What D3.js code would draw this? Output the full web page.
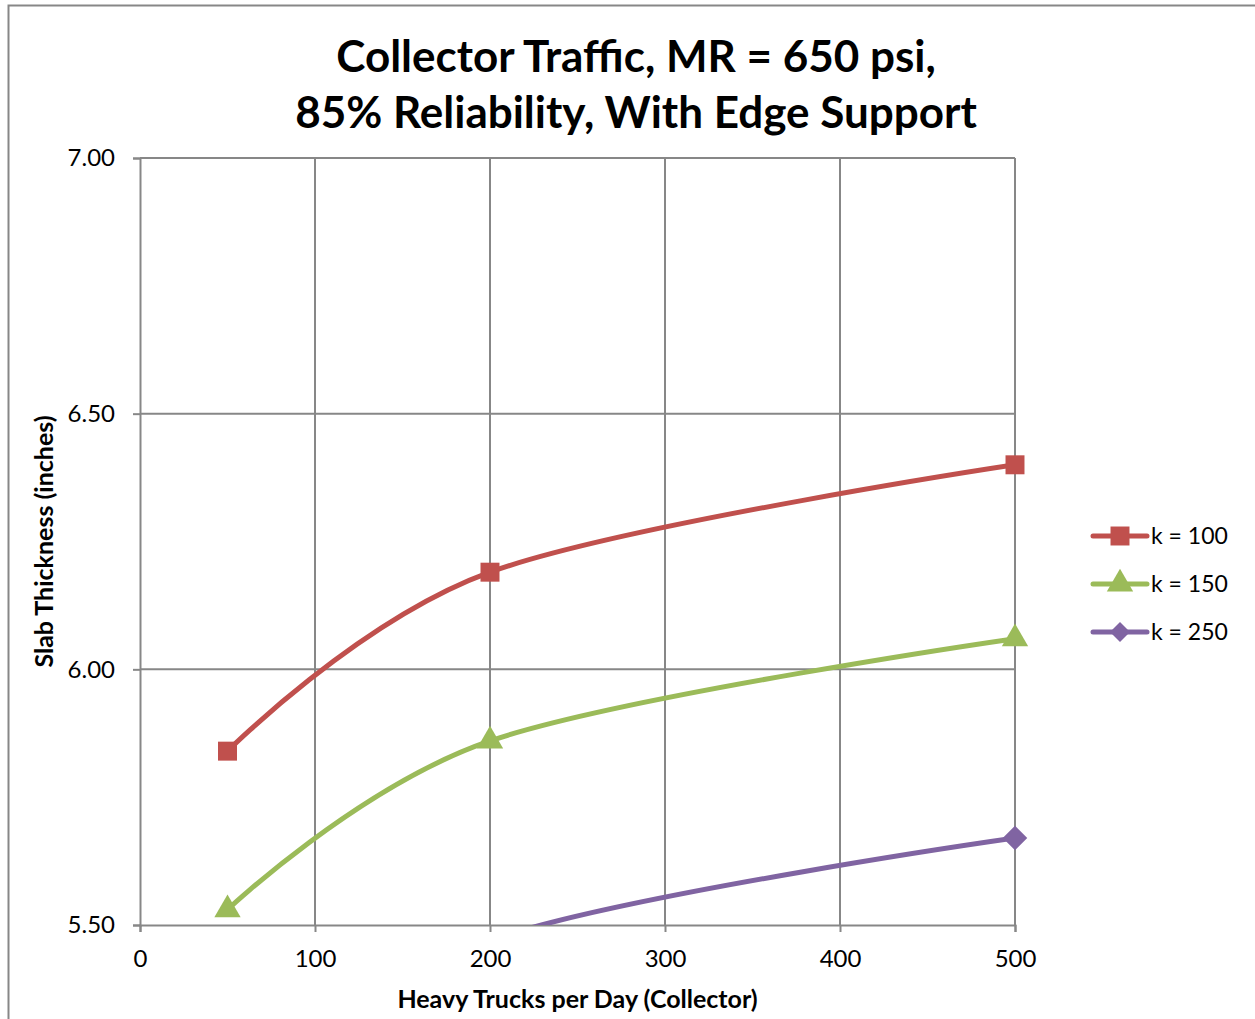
<!DOCTYPE html>
<html>
<head>
<meta charset="utf-8">
<script src="https://cdn.jsdelivr.net/npm/d3@7"></script>
<style>
  body { margin: 0; background: #fff; }
  text { font-family: Lato, "Open Sans", sans-serif; fill: #000; }
</style>
</head>
<body>
<div id="chart"></div>
<script>
const TITLE = ["Collector Traffic, MR = 650 psi,", "85% Reliability, With Edge Support"];
const X_LABEL = "Heavy Trucks per Day (Collector)";
const Y_LABEL = "Slab Thickness (inches)";
const X_TICKS = [0, 100, 200, 300, 400, 500];
const Y_TICKS = [5.5, 6.0, 6.5, 7.0];
const TRUCKS = [50, 200, 500];
const SERIES = ["k = 100", "k = 150", "k = 250"];
const K100 = [5.84, 6.19, 6.40];
const K150 = [5.53, 5.86, 6.06];
const K250 = [5.13, 5.47, 5.67];
const COLORS = ["#C0504D", "#9BBB59", "#8064A2"];
const SYMBOLS = [d3.symbolSquare, d3.symbolTriangle, d3.symbolSquare];
const ROTATE = [0, 0, 45];

const width = 1255, height = 1019;
const plot = { left: 140, right: 1015, top: 158, bottom: 925 };

const svg = d3.select("#chart").append("svg")
    .attr("width", width)
    .attr("height", height);

// outer chart border (only left + top visible in the crop)
svg.append("path")
    .attr("d", `M8.5,${height} L8.5,5.5 L${width},5.5`)
    .attr("fill", "none")
    .attr("stroke", "#878787")
    .attr("stroke-width", 2);

const x = d3.scaleLinear().domain([0, 500]).range([plot.left, plot.right]);
const y = d3.scaleLinear().domain([5.5, 7.0]).range([plot.bottom, plot.top]);

// gridlines
svg.append("g").selectAll("line.vg")
    .data(X_TICKS.slice(1))
    .enter().append("line")
    .attr("x1", d => x(d)).attr("x2", d => x(d))
    .attr("y1", plot.top).attr("y2", plot.bottom)
    .attr("stroke", "#878787").attr("stroke-width", 2);

svg.append("g").selectAll("line.hg")
    .data(Y_TICKS.slice(1))
    .enter().append("line")
    .attr("x1", plot.left).attr("x2", plot.right)
    .attr("y1", d => y(d)).attr("y2", d => y(d))
    .attr("stroke", "#878787").attr("stroke-width", 2);

// axes
svg.append("g")
    .attr("transform", `translate(0,${plot.bottom})`)
    .call(d3.axisBottom(x).tickValues(X_TICKS).tickSize(7).tickPadding(18).tickFormat(d3.format("d")))
    .call(g => g.select(".domain").attr("stroke", "#878787").attr("stroke-width", 2))
    .call(g => g.selectAll(".tick line").attr("stroke", "#878787").attr("stroke-width", 2))
    .call(g => g.selectAll("text").style("font-size", "24px").attr("fill", "#000"));

svg.append("g")
    .attr("transform", `translate(${plot.left},0)`)
    .call(d3.axisLeft(y).tickValues(Y_TICKS).tickSize(7).tickPadding(18).tickFormat(d3.format(".2f")))
    .call(g => g.select(".domain").attr("stroke", "#878787").attr("stroke-width", 2))
    .call(g => g.selectAll(".tick line").attr("stroke", "#878787").attr("stroke-width", 2))
    .call(g => g.selectAll("text").style("font-size", "24px").attr("fill", "#000"));

// series
svg.append("clipPath").attr("id", "plotclip")
    .append("rect")
    .attr("x", plot.left).attr("y", plot.top)
    .attr("width", plot.right - plot.left).attr("height", plot.bottom - plot.top);

const data = [K100, K150, K250].map((vals, i) => ({
    name: SERIES[i],
    color: COLORS[i],
    symbol: SYMBOLS[i],
    rot: ROTATE[i],
    pts: TRUCKS.map((t, j) => ({ x: t, y: vals[j] }))
}));

const line = d3.line()
    .x(d => x(d.x)).y(d => y(d.y))
    .curve(d3.curveCardinal.tension(0));

const symSize = [360, 300, 300];

data.forEach((s, i) => {
    svg.append("path")
        .attr("d", line(s.pts))
        .attr("fill", "none")
        .attr("stroke", s.color)
        .attr("stroke-width", 5)
        .attr("clip-path", "url(#plotclip)");

    svg.append("g").selectAll("path")
        .data(s.pts.filter(p => p.y >= 5.5))
        .enter().append("path")
        .attr("transform", p => `translate(${x(p.x)},${y(p.y)}) rotate(${s.rot})`)
        .attr("d", d3.symbol().type(s.symbol).size(symSize[i]))
        .attr("fill", s.color);
});

// legend
const legend = svg.append("g").attr("transform", "translate(1093,536)");
data.forEach((s, i) => {
    const g = legend.append("g").attr("transform", `translate(0,${i * 48})`);
    g.append("line")
        .attr("x1", 0).attr("x2", 54)
        .attr("stroke", s.color).attr("stroke-width", 5)
        .attr("stroke-linecap", "round");
    g.append("path")
        .attr("transform", `translate(27,0) rotate(${s.rot})`)
        .attr("d", d3.symbol().type(s.symbol).size(i === 2 ? 200 : symSize[i]))
        .attr("fill", s.color);
    g.append("text")
        .attr("x", 58).attr("y", 8)
        .style("font-size", "23px")
        .text(s.name);
});

// titles
svg.append("g").selectAll("text")
    .data(TITLE)
    .enter().append("text")
    .attr("x", 636)
    .attr("y", (d, i) => 72 + i * 56)
    .attr("text-anchor", "middle")
    .style("font-size", "44px")
    .style("font-weight", 700)
    .text(d => d);

svg.append("text")
    .attr("x", (plot.left + plot.right) / 2)
    .attr("y", 1008)
    .attr("text-anchor", "middle")
    .style("font-size", "25px")
    .style("font-weight", 700)
    .text(X_LABEL);

svg.append("text")
    .attr("transform", `translate(53,${(plot.top + plot.bottom) / 2}) rotate(-90)`)
    .attr("text-anchor", "middle")
    .style("font-size", "25px")
    .style("font-weight", 700)
    .text(Y_LABEL);
</script>
</body>
</html>
